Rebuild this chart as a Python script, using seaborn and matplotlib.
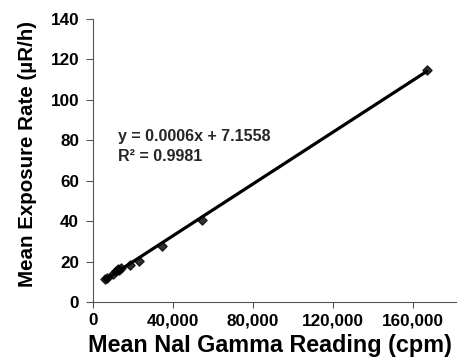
import numpy as np
import pandas as pd
import seaborn as sns
import matplotlib.pyplot as plt
from matplotlib.ticker import FuncFormatter

# Datos
nai_cpm = [6000, 7000, 10000, 11500, 12500, 13000, 14000, 18500, 23000, 34500, 54500, 167000]
exposure = [11.3, 12.0, 14.0, 15.5, 16.5, 16.0, 16.8, 18.2, 20.5, 27.5, 40.5, 115.0]
x_ticks = [0, 40000, 80000, 120000, 160000]
y_ticks = [0, 20, 40, 60, 80, 100, 120, 140]

df = pd.DataFrame({'cpm': nai_cpm, 'rate': exposure})

sns.set_style('ticks')
plt.rcParams['font.family'] = ['Liberation Sans', 'DejaVu Sans']
plt.rcParams['font.weight'] = 'bold'

fig = plt.figure(figsize=(4.61, 3.58), dpi=100)
ax = fig.add_axes([93 / 461, 56 / 358, 363 / 461, 283 / 358])

sns.regplot(x='cpm', y='rate', data=df, ci=None, ax=ax, truncate=True,
            marker='D', scatter_kws={'s': 22, 'color': 'black'},
            line_kws={'color': 'black', 'linewidth': 2.3})

ax.set_xlim(0, 181500)
ax.set_ylim(0, 140)
ax.set_xticks(x_ticks)
ax.set_yticks(y_ticks)
ax.xaxis.set_major_formatter(FuncFormatter(lambda v, p: f'{int(v):,}'))
ax.tick_params(axis='x', labelsize=12.3, length=4, width=0.8, color='#555555',
               labelcolor='black', pad=4)
ax.tick_params(axis='y', labelsize=12.3, length=5, width=0.8, color='#555555',
               labelcolor='black', pad=5)
for lab in ax.get_xticklabels() + ax.get_yticklabels():
    lab.set_fontweight('bold')

ax.set_xlabel('Mean NaI Gamma Reading (cpm)', fontsize=16.8, fontweight='bold', color='black')
ax.set_ylabel('Mean Exposure Rate (µR/h)', fontsize=14.8, fontweight='bold', color='black')
ax.xaxis.set_label_coords(0.488, -0.112)
ax.yaxis.set_label_coords(-0.154, 0.523)

ax.text(12500, 82, 'y = 0.0006x + 7.1558', fontsize=11.5, fontweight='bold', va='center')
ax.text(12500, 72, 'R² = 0.9981', fontsize=11.5, fontweight='bold', va='center')

sns.despine(ax=ax)
for s in ['left', 'bottom']:
    ax.spines[s].set_color('#555555')
    ax.spines[s].set_linewidth(0.8)

fig.savefig('out.png', dpi=100)
